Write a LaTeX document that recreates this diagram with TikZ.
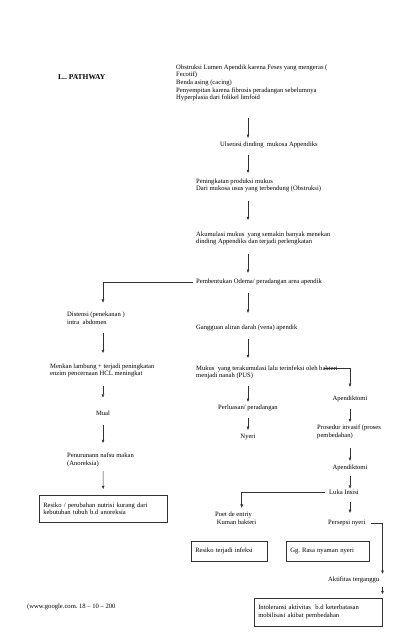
\documentclass[tikz,border=0pt]{standalone}
\usepackage{fontspec}
\setmainfont{Liberation Serif}
\usepackage{tikz}
\usetikzlibrary{arrows.meta,calc}
\definecolor{PathLine}{HTML}{333333}
\frenchspacing

\tikzset{
  txt/.style={inner sep=0pt,anchor=west,align=left,font=\fontsize{6.6}{7.6}\selectfont},
  ctxt/.style={txt,anchor=center,align=center},
  box/.style={draw=PathLine,line width=0.5pt,anchor=north west,inner xsep=4pt,align=left,
              font=\fontsize{6.6}{7.8}\selectfont},
  arr/.style={draw=PathLine,line width=0.5pt,-{Triangle[length=3.2pt,width=2.6pt]}}
}

\begin{document}
\begin{tikzpicture}[x=1pt,y=-1pt]
   \useasboundingbox (0,0) rectangle (418,640);
   \coordinate (tengah) at (248,0);
   \coordinate (kiri) at (103,0);
   \coordinate (kanan) at (350,0);
   \node[inner sep=0pt,anchor=west,font=\fontsize{7.5}{9}\selectfont\bfseries] (judul) at (58,77) {L.. PATHWAY};
   % jalur utama
   \node[txt] (sebab) at (176,83) {Obstruksi Lumen Apendik karena Feses yang mengeras (\\Fecotif)\\Benda asing (cacing)\\Penyempitan karena fibrosis peradangan sebelumnya\\Hyperplasia dari folikel limfoid};
   \node[txt] (ulserasi) at (220,145) {Ulserasi dinding\ \ mukosa Appendiks};
   \node[txt] (produksi) at (196,185.5) {Peningkatan produksi mukus\\Dari mukosa usus yang terbendung (Obstruksi)};
   \node[txt] (akumulasi) at (196,238.5) {Akumulasi mukus\ \ yang semakin banyak menekan\\dinding Appendiks dan terjadi perlengkatan};
   \node[txt] (odema) at (196,282) {Pembentukan Odema/ peradangan area apendik};
   \node[txt] (gangguan) at (196,328) {Gangguan aliran darah (vena) apendik};
   \node[txt] (mukus) at (196,372.5) {Mukus\ \ yang terakumulasi lalu terinfeksi oleh bakteri\\menjadi nanah (PUS)};
   \node[ctxt] (perluasan) at (248,408) {Perluasan/ peradangan};
   \node[ctxt] (nyeri) at (248,437) {Nyeri};
   % cabang kiri
   \node[txt] (distensi) at (67,318.5) {Distensi (penekanan )\\intra\ \ abdomen};
   \node[txt] (menekan) at (50,370.5) {Menkan lambung + terjadi peningkatan\\enzim pencernaan HCL meningkat};
   \node[ctxt] (mual) at (103,413) {Mual};
   \node[txt] (turun) at (67,460) {Penurunann nafsu makan\\(Anoreksia)};
   \node[box,minimum width=128pt,minimum height=27pt,text width=120pt] (nutrisi) at (39,495) {Resiko / perubahan nutrisi kurang dari\\kebutuhan tubuh b.d anoreksia};
   % cabang kanan
   \node[ctxt] (apd1) at (350,399) {Apendiktomi};
   \node[txt] (invasif) at (317,432) {Prosedur invasif (proses\\pembedahan)};
   \node[ctxt] (apd2) at (350,468) {Apendiktomi};
   \node[txt] (luka) at (329,492) {Luka Insisi};
   \node[txt] (entry) at (215,518) {Poet de entriy\\\ Kuman bakteri};
   \node[txt] (persepsi) at (328,523) {Persepsi nyeri};
   \node[box,minimum width=76pt,minimum height=20pt,text width=68pt] (infeksi) at (191,541) {Resiko terjadi infeksi};
   \node[box,minimum width=83pt,minimum height=20pt,text width=75pt] (gg) at (286,541) {Gg. Rasa nyaman nyeri};
   \node[txt] (aktifitas) at (328,580) {Aktifitas terganggu};
   \node[box,minimum width=128pt,minimum height=28pt,text width=120pt] (intol) at (254,598) {Intoleransi aktivitas\ \ b.d keterbatasan\\mobilisasi akibat pembedahan};
   \node[txt] (sumber) at (27,607) {(www.google.com. 18 -- 10 -- 200};

   \draw[arr,shorten <=17pt,shorten >=4pt] (sebab.south -| tengah) -- (ulserasi.north -| tengah);
   \draw[arr,shorten <=7pt,shorten >=5.5pt] (ulserasi.south -| tengah) -- (produksi.north -| tengah);
   \draw[arr,shorten <=8.5pt,shorten >=11.5pt] (produksi.south -| tengah) -- (akumulasi.north -| tengah);
   \draw[arr,shorten <=8.5pt,shorten >=6pt] (akumulasi.south -| tengah) -- (odema.north -| tengah);
   \draw[arr,shorten <=8pt,shorten >=12pt] (odema.south -| tengah) -- (gangguan.north -| tengah);
   \draw[arr,shorten <=8pt,shorten >=7.5pt] (gangguan.south -| tengah) -- (mukus.north -| tengah);
   \draw[arr,shorten <=6.5pt,shorten >=3pt] (mukus.south -| tengah) -- (perluasan.north);
   \draw[arr,shorten <=7pt,shorten >=4pt] (perluasan.south) -- (nyeri.north);

   \draw[arr,shorten <=3pt,shorten >=9.5pt] (odema.west) -| (distensi.north -| kiri);
   \draw[arr,shorten <=8.5pt,shorten >=10.5pt] (distensi.south -| kiri) -- (menekan.north -| kiri);
   \draw[arr,shorten <=8.5pt,shorten >=13pt] (menekan.south -| kiri) -- (mual.north);
   \draw[arr,shorten <=9pt,shorten >=10pt] (mual.south) -- (turun.north -| kiri);
   \draw[arr,shorten <=4pt,shorten >=6pt] (turun.south -| kiri) -- (nutrisi.north);

   \draw[arr,shorten >=9pt] ([xshift=-14pt,yshift=4.5pt]mukus.east) -| (apd1.north);
   \draw[arr,shorten <=7pt,shorten >=3pt] (apd1.south) -- (invasif.north -| kanan);
   \draw[arr,shorten <=9pt,shorten >=4pt] (invasif.south -| kanan) -- (apd2.north);
   \draw[arr,shorten <=5pt,shorten >=1pt] (apd2.south) -- (luka.north -| kanan);
   \draw[arr,shorten <=4pt,shorten >=4pt] (luka.west) -| ([xshift=6pt]entry.north);
   \draw[arr,shorten <=7pt,shorten >=7pt] (luka.south -| kanan) -- (persepsi.north -| kanan);
   \draw[arr,shorten <=5pt,shorten >=3pt] (persepsi.east) -| (aktifitas.north -| intol.east);
   \draw[arr,shorten <=4pt,shorten >=4pt] (aktifitas.south -| intol.east) -- (intol.north east);
\end{tikzpicture}
\end{document}
